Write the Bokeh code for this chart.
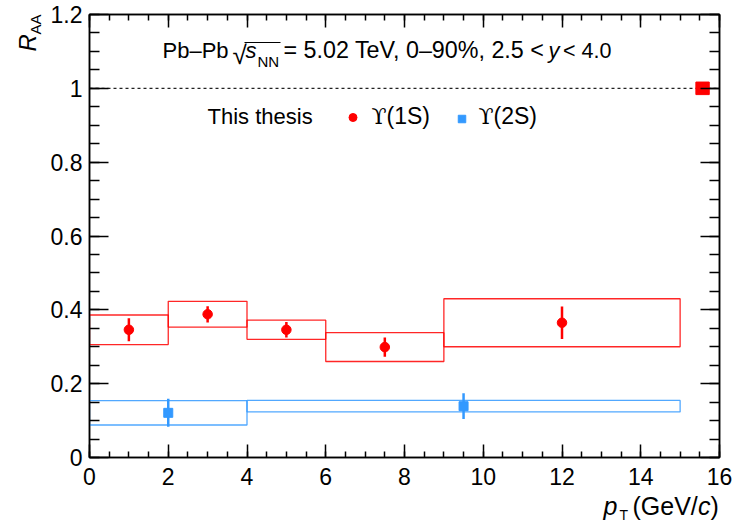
import numpy as np
from bokeh.plotting import figure
from bokeh.layouts import column
from bokeh.models import (FixedTicker, LinearAxis, Label, Span, CustomJSTickFormatter,
                          ColumnDataSource, Range1d)
from bokeh.embed import file_html
from bokeh.resources import INLINE

# ---------------- data ----------------
ups1s_x = [1.0, 3.0, 5.0, 7.5, 12.0]
ups1s_xlo = [0.0, 2.0, 4.0, 6.0, 9.0]
ups1s_xhi = [2.0, 4.0, 6.0, 9.0, 15.0]
ups1s_raa = [0.346, 0.388, 0.346, 0.299, 0.365]
ups1s_stat = [0.031, 0.022, 0.021, 0.026, 0.044]
ups1s_syst = [0.040, 0.035, 0.026, 0.039, 0.065]

ups2s_x = [2.0, 9.5]
ups2s_xlo = [0.0, 4.0]
ups2s_xhi = [4.0, 15.0]
ups2s_raa = [0.121, 0.139]
ups2s_stat = [0.038, 0.035]
ups2s_syst = [0.033, 0.0155]

glob_x = 15.57
glob_halfwidth = 0.17
glob_unc = 0.017

x_ticks = [0, 2, 4, 6, 8, 10, 12, 14, 16]
y_ticks = [0, 0.2, 0.4, 0.6, 0.8, 1, 1.2]

RED = "#ff0000"
BLUE = "#3399ff"
FONT = "Liberation Sans"

# frame position in page pixels
FL, FT, FR, FB = 89, 14, 719, 457
BASE_SHIFT = 0.36  # correction so that the anchor lands on the text baseline

# ---------------- figure ----------------
W, H = 736, 525
p = figure(width=W, height=H, x_range=(0, 16), y_range=(0, 1.2),
           output_backend="svg", toolbar_location=None,
           min_border_left=FL, min_border_right=W - FR,
           min_border_top=FT, min_border_bottom=H - FB, margin=0)
p.grid.visible = False
p.outline_line_color = "black"
p.outline_line_width = 1.5
p.background_fill_color = "white"
p.border_fill_color = "white"

x_minor = list(np.arange(0, 16.01, 0.5))
y_minor = list(np.round(np.arange(0, 1.2001, 0.05), 3))
xt = FixedTicker(ticks=x_ticks, minor_ticks=x_minor)
yt = FixedTicker(ticks=y_ticks, minor_ticks=y_minor)
fmt = CustomJSTickFormatter(code="return String(Math.round(tick*10)/10);")
blank = CustomJSTickFormatter(code="return '';")


def style_axis(ax, ticker, tick_in, minor_in, labels=True, standoff=8):
    ax.ticker = ticker
    ax.axis_line_color = "black"
    ax.axis_line_width = 1.5
    ax.major_tick_in = tick_in
    ax.major_tick_out = 0
    ax.minor_tick_in = minor_in
    ax.minor_tick_out = 0
    ax.major_tick_line_width = 1.5
    ax.minor_tick_line_width = 1.5
    ax.major_tick_line_color = "black"
    ax.minor_tick_line_color = "black"
    if labels:
        ax.formatter = fmt
        ax.major_label_text_font = FONT
        ax.major_label_text_font_size = "23px"
        ax.major_label_text_color = "black"
        ax.major_label_standoff = standoff
    else:
        ax.formatter = blank
        ax.major_label_text_font_size = "1px"
        ax.major_label_standoff = 0


style_axis(p.xaxis[0], xt, 13, 6, True, 10)
style_axis(p.yaxis[0], yt, 19, 10, True, 7)

top_ax = LinearAxis()
style_axis(top_ax, xt, 13, 6, False)
p.add_layout(top_ax, "above")
right_ax = LinearAxis()
style_axis(right_ax, yt, 19, 10, False)
p.add_layout(right_ax, "right")

# ---------------- reference line ----------------
p.add_layout(Span(location=1.0, dimension="width", line_color="#222222",
                  line_dash="3 3", line_width=1.2, level="underlay"))

# ---------------- systematics boxes ----------------
s1 = ColumnDataSource(dict(x=ups1s_x, xlo=ups1s_xlo, xhi=ups1s_xhi,
                           y=ups1s_raa,
                           ylo=[a - b for a, b in zip(ups1s_raa, ups1s_syst)],
                           yhi=[a + b for a, b in zip(ups1s_raa, ups1s_syst)],
                           slo=[a - b for a, b in zip(ups1s_raa, ups1s_stat)],
                           shi=[a + b for a, b in zip(ups1s_raa, ups1s_stat)]))
s2 = ColumnDataSource(dict(x=ups2s_x, xlo=ups2s_xlo, xhi=ups2s_xhi,
                           y=ups2s_raa,
                           ylo=[a - b for a, b in zip(ups2s_raa, ups2s_syst)],
                           yhi=[a + b for a, b in zip(ups2s_raa, ups2s_syst)],
                           slo=[a - b for a, b in zip(ups2s_raa, ups2s_stat)],
                           shi=[a + b for a, b in zip(ups2s_raa, ups2s_stat)]))

p.quad(left="xlo", right="xhi", bottom="ylo", top="yhi", source=s2,
       fill_color=None, line_color=BLUE, line_width=1.3, line_alpha=0.85)
p.quad(left="xlo", right="xhi", bottom="ylo", top="yhi", source=s1,
       fill_color=None, line_color=RED, line_width=1.3, line_alpha=0.85)

# ---------------- stat errors + points ----------------
p.segment(x0="x", y0="slo", x1="x", y1="shi", source=s2, line_color=BLUE, line_width=2.5)
p.scatter(x="x", y="y", source=s2, marker="square", size=9, color=BLUE)
p.segment(x0="x", y0="slo", x1="x", y1="shi", source=s1, line_color=RED, line_width=2.5)
p.scatter(x="x", y="y", source=s1, marker="circle", size=9.5, color=RED)

# global uncertainty box
p.quad(left=[glob_x - glob_halfwidth], right=[glob_x + glob_halfwidth],
       bottom=[1 - glob_unc], top=[1 + glob_unc], fill_color=RED, line_color=RED)


# ---------------- texts (pixel helpers) ----------------
def dx(px):
    return (px - FL) / (FR - FL) * 16.0


def dy(py):
    return (FB - py) / (FB - FT) * 1.2


def txt(t, px, py, size, align="left", style="normal", font=FONT):
    py = py - BASE_SHIFT * size
    p.add_layout(Label(x=dx(px), y=dy(py), text=t, text_font=font,
                       text_font_size=f"{size}px", text_font_style=style,
                       text_align=align, text_baseline="alphabetic",
                       text_color="black"))


# header
txt("Pb\u2013Pb", 162, 58, 22)
txt("\u221a", 232, 64, 26)
p.segment(x0=[dx(244)], y0=[dy(42)], x1=[dx(280)], y1=[dy(42)], line_color="black", line_width=1.2)
txt("s", 245, 58, 22, style="italic")
txt("NN", 257, 66, 15)
txt("= 5.02 TeV, 0\u201390%, 2.5 <", 283, 58, 23.3)
txt("y", 548, 58, 22, style="italic")
txt("< 4.0", 611, 58, 21.5, align="right")

# legend
txt("This thesis", 207, 124, 22)
p.scatter(x=[dx(352.5)], y=[dy(117)], marker="circle", size=8, color=RED)
txt("\u03d2", 371, 124, 22, font="DejaVu Serif")
txt("(1S)", 386, 124, 23)
p.scatter(x=[dx(461.5)], y=[dy(118.5)], marker="square", size=7.5, color=BLUE)
txt("\u03d2", 478, 124, 22, font="DejaVu Serif")
txt("(2S)", 493, 124, 23)

# ---------------- transparent overlay for the axis titles ----------------
ov = figure(width=W, height=H, x_range=Range1d(0, W), y_range=Range1d(H, 0),
            x_axis_type=None, y_axis_type=None, output_backend="svg",
            toolbar_location=None, min_border=0, margin=(-H, 0, 0, 0),
            background_fill_color=None, border_fill_color=None,
            outline_line_color=None)
ov.grid.visible = False
for fig in (p, ov):
    if "frame_align" in fig.properties():
        fig.frame_align = False


def otxt(t, px, py, size, align="left", style="normal", font=FONT, angle=0.0):
    if angle == 0.0:
        py = py - BASE_SHIFT * size
    else:
        px = px - BASE_SHIFT * size
    ov.add_layout(Label(x=px, y=py, text=t, text_font=font,
                        text_font_size=f"{size}px", text_font_style=style,
                        text_align=align, text_baseline="alphabetic", angle=angle,
                        text_color="black"))


otxt("p", 603, 514, 25, style="italic")
otxt("T", 619, 520, 14)
otxt("(GeV/", 632, 514, 25)
otxt("c", 697.5, 514, 25, style="italic")
otxt(")", 710, 514, 25)

otxt("R", 36, 51, 24, style="italic", angle=np.pi / 2)
otxt("AA", 40, 34, 15, angle=np.pi / 2)

layout = column(p, ov, spacing=0)
open("out.html", "w").write(file_html(layout, INLINE))
